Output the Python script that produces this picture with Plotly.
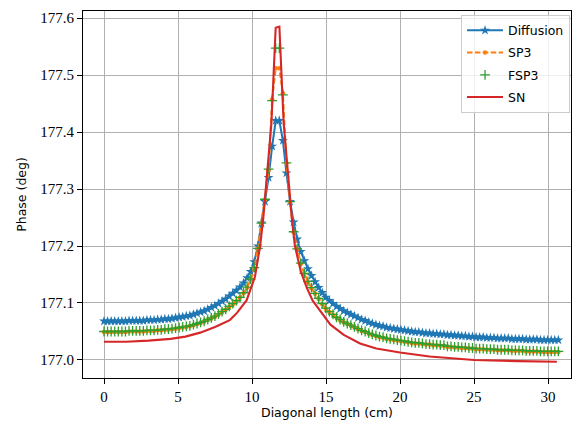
import numpy as np
import plotly.graph_objects as go

# sample grid along the diagonal (cm)
x = np.linspace(0, 30.7, 128)

diffusion = [
    177.068, 177.068, 177.068, 177.068, 177.068, 177.068, 177.068, 177.069, 177.069, 177.069,
    177.069, 177.069, 177.070, 177.070, 177.070, 177.071, 177.071, 177.072, 177.072, 177.073,
    177.074, 177.075, 177.076, 177.077, 177.078, 177.080, 177.082, 177.084, 177.086, 177.089,
    177.092, 177.095, 177.099, 177.103, 177.107, 177.112, 177.117, 177.122, 177.128, 177.135,
    177.144, 177.155, 177.172, 177.200, 177.240, 177.278, 177.320, 177.375, 177.420, 177.420,
    177.385, 177.328, 177.278, 177.242, 177.212, 177.190, 177.174, 177.160, 177.148, 177.137,
    177.127, 177.118, 177.110, 177.104, 177.099, 177.094, 177.090, 177.086, 177.083, 177.080,
    177.077, 177.074, 177.071, 177.069, 177.066, 177.064, 177.062, 177.060, 177.059, 177.057,
    177.056, 177.055, 177.054, 177.053, 177.052, 177.051, 177.050, 177.049, 177.049, 177.048,
    177.047, 177.047, 177.046, 177.046, 177.045, 177.045, 177.044, 177.044, 177.043, 177.043,
    177.042, 177.042, 177.041, 177.041, 177.040, 177.040, 177.040, 177.039, 177.039, 177.039,
    177.038, 177.038, 177.038, 177.038, 177.037, 177.037, 177.037, 177.037, 177.036, 177.036,
    177.036, 177.036, 177.035, 177.035, 177.035, 177.035, 177.035, 177.035,
]

sp3 = [
    177.049, 177.049, 177.049, 177.049, 177.049, 177.049, 177.049, 177.050, 177.050, 177.050,
    177.050, 177.050, 177.051, 177.051, 177.051, 177.052, 177.052, 177.053, 177.053, 177.054,
    177.055, 177.056, 177.057, 177.058, 177.059, 177.061, 177.063, 177.065, 177.067, 177.070,
    177.073, 177.076, 177.080, 177.084, 177.088, 177.093, 177.098, 177.103, 177.109, 177.117,
    177.127, 177.141, 177.161, 177.195, 177.240, 177.281, 177.333, 177.457, 177.512, 177.512,
    177.468, 177.345, 177.277, 177.224, 177.194, 177.169, 177.151, 177.137, 177.126, 177.116,
    177.107, 177.098, 177.090, 177.084, 177.079, 177.074, 177.070, 177.066, 177.063, 177.060,
    177.057, 177.054, 177.051, 177.049, 177.046, 177.044, 177.042, 177.040, 177.039, 177.037,
    177.036, 177.035, 177.034, 177.033, 177.032, 177.031, 177.030, 177.029, 177.029, 177.028,
    177.027, 177.027, 177.026, 177.026, 177.025, 177.025, 177.023, 177.023, 177.022, 177.022,
    177.021, 177.021, 177.020, 177.020, 177.019, 177.019, 177.019, 177.018, 177.018, 177.018,
    177.017, 177.017, 177.017, 177.017, 177.016, 177.016, 177.016, 177.016, 177.015, 177.015,
    177.015, 177.015, 177.014, 177.014, 177.014, 177.014, 177.014, 177.014,
]

fsp3 = [
    177.050, 177.050, 177.050, 177.050, 177.050, 177.050, 177.050, 177.051, 177.051, 177.051,
    177.051, 177.051, 177.052, 177.052, 177.052, 177.053, 177.053, 177.054, 177.054, 177.055,
    177.056, 177.057, 177.058, 177.059, 177.060, 177.062, 177.064, 177.066, 177.068, 177.071,
    177.074, 177.077, 177.081, 177.085, 177.089, 177.094, 177.099, 177.104, 177.110, 177.118,
    177.128, 177.142, 177.162, 177.196, 177.240, 177.282, 177.335, 177.455, 177.547, 177.547,
    177.465, 177.346, 177.278, 177.225, 177.195, 177.170, 177.152, 177.138, 177.127, 177.117,
    177.108, 177.099, 177.091, 177.085, 177.080, 177.075, 177.071, 177.067, 177.064, 177.061,
    177.058, 177.055, 177.052, 177.050, 177.047, 177.045, 177.043, 177.041, 177.040, 177.038,
    177.037, 177.036, 177.035, 177.034, 177.033, 177.032, 177.031, 177.030, 177.030, 177.029,
    177.028, 177.028, 177.027, 177.027, 177.026, 177.026, 177.024, 177.024, 177.023, 177.023,
    177.022, 177.022, 177.021, 177.021, 177.020, 177.020, 177.020, 177.019, 177.019, 177.019,
    177.018, 177.018, 177.018, 177.018, 177.017, 177.017, 177.017, 177.017, 177.016, 177.016,
    177.016, 177.016, 177.015, 177.015, 177.015, 177.015, 177.015, 177.015,
]

sn_x = [0, 1.5, 3, 4.5, 5.5, 6.5, 7.5, 8.5, 9.0, 9.64, 10.2, 10.55, 10.77, 10.97, 11.15,
        11.31, 11.60, 11.85, 12.14, 12.30, 12.49, 12.68, 12.9, 13.3, 13.7, 14.1, 14.7,
        15.3, 16.2, 17.3, 18.4, 20, 22, 25, 28, 30.6]
sn = [177.032, 177.032, 177.034, 177.037, 177.041, 177.048, 177.058, 177.070, 177.083,
      177.105, 177.146, 177.200, 177.251, 177.310, 177.360, 177.415, 177.583, 177.585,
      177.415, 177.360, 177.310, 177.251, 177.200, 177.155, 177.127, 177.104, 177.082,
      177.062, 177.044, 177.029, 177.020, 177.013, 177.006, 177.000, 176.998, 176.997]

x_ticks = [0, 5, 10, 15, 20, 25, 30]
y_ticks = [177.0, 177.1, 177.2, 177.3, 177.4, 177.5, 177.6]

BLUE, ORANGE, GREEN, RED = "#1f77b4", "#ff7f0e", "#2ca02c", "#d62728"
SANS = "DejaVu Sans"
SERIF = "Liberation Serif"

fig = go.Figure()
fig.add_trace(go.Scatter(
    x=x, y=diffusion, name="Diffusion", mode="lines+markers", legendgroup="a",
    line=dict(color=BLUE, width=2),
    marker=dict(symbol="star", size=7.5, color=BLUE, line=dict(width=0)),
))
fig.add_trace(go.Scatter(
    x=x, y=sp3, name="SP3", mode="lines+markers", legendgroup="b",
    line=dict(color=ORANGE, width=2, dash="5.5px,2.4px"),
    marker=dict(symbol="circle", size=4.5, color=ORANGE, line=dict(width=0)),
))
fig.add_trace(go.Scatter(
    x=x, y=fsp3, name="FSP3", mode="markers", legendgroup="c",
    marker=dict(symbol="cross-thin", size=7, color=GREEN, line=dict(width=1.3, color=GREEN)),
))
fig.add_trace(go.Scatter(
    x=sn_x, y=sn, name="SN", mode="lines", legendgroup="d",
    line=dict(color=RED, width=2.1),
))

axis_common = dict(
    showline=True, linecolor="black", linewidth=1, mirror=True,
    ticks="outside", ticklen=5, tickwidth=1, tickcolor="black",
    showgrid=True, gridcolor="#b0b0b0", gridwidth=1, zeroline=False,
    tickfont=dict(family=SERIF, size=15, color="black"),
    automargin=False,
)

fig.update_layout(
    width=580, height=428,
    margin=dict(l=83, r=9, t=11, b=50),
    paper_bgcolor="white", plot_bgcolor="white",
    showlegend=True,
    legend=dict(
        x=0.998, y=0.99, xanchor="right", yanchor="top",
        bgcolor="rgba(255,255,255,0.8)", bordercolor="#cccccc", borderwidth=1,
        font=dict(family=SANS, size=12.5, color="black"),
        tracegroupgap=3, itemwidth=36,
    ),
    xaxis=dict(
        range=[-1.419, 31.554], tickvals=x_ticks, ticktext=[str(t) for t in x_ticks],
        title=dict(text="Diagonal length (cm)", font=dict(family=SANS, size=12.5, color="black"), standoff=3),
        **axis_common,
    ),
    yaxis=dict(
        range=[176.9684, 177.6123], tickvals=y_ticks, ticktext=[f"{t:.1f}" for t in y_ticks],
        title=dict(text="Phase (deg)", font=dict(family=SANS, size=12.5, color="black"), standoff=10),
        **axis_common,
    ),
)

fig.write_html(
    "out.html",
    config={"displayModeBar": False},
    post_script="document.body.style.margin='0';document.body.style.overflow='hidden';",
)
